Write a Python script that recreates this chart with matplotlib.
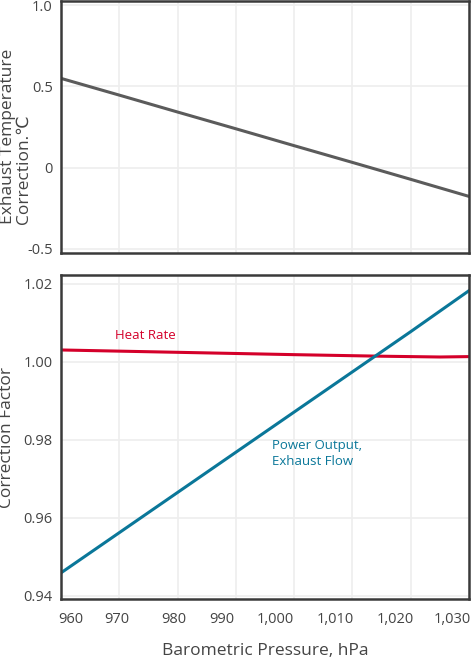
import matplotlib
matplotlib.use("Agg")
import matplotlib.pyplot as plt
from matplotlib.ticker import FuncFormatter

plt.rcParams['font.family'] = ['Open Sans', 'DejaVu Sans']

# data
pressure = [960, 970, 980, 990, 1000, 1010, 1020, 1030]
exhaust_temp = [0.549, 0.446, 0.342, 0.239, 0.135, 0.032, -0.072, -0.177]
power_output = [0.9459, 0.9562, 0.9665, 0.9768, 0.9871, 0.9974, 1.0077, 1.0182]
heat_rate_x = [960, 980, 1000, 1015, 1025, 1030]
heat_rate = [1.0030, 1.0024, 1.0018, 1.0014, 1.0012, 1.0013]

x_ticks = [960, 970, 980, 990, 1000, 1010, 1020, 1030]
x_labels = ['960', '970', '980', '990', '1,000', '1,010', '1,020', '1,030']
# the original's tick labels sit a little off the grid lines
x_label_pos = [961.7, 969.6, 979.4, 987.6, 996.8, 1007.0, 1017.3, 1027.2]
top_ticks = [-0.5, 0, 0.5, 1.0]
top_labels = ['-0.5', '0', '0.5', '1.0']
bot_ticks = [0.94, 0.96, 0.98, 1.00, 1.02]

gray = '#5b5b5b'
red = '#d4002a'
blue = '#0a7799'
spine_c = '#3a3a3a'
grid_c = '#eeeeee'
txt_c = '#444444'

fig = plt.figure(figsize=(4.74, 6.6), dpi=100)
ax1 = fig.add_axes([0.1287, 0.6167, 0.8608, 0.3818])
ax2 = fig.add_axes([0.1287, 0.0924, 0.8608, 0.4909])

for ax in (ax1, ax2):
    ax.set_xlim(960, 1030)
    ax.set_xticks(x_ticks)
    ax.set_xticklabels([])
    ax.grid(True, which='major', color=grid_c, linewidth=1.2)
    ax.set_axisbelow(True)
    for s in ax.spines.values():
        s.set_color(spine_c)
        s.set_linewidth(1.8)
    ax.tick_params(which='both', length=0, labelsize=10.5, labelcolor=txt_c, pad=6)

# top panel
ax1.plot(pressure, exhaust_temp, color=gray, linewidth=2.2)
ax1.set_ylim(-0.525, 1.025)
ax1.set_yticks(top_ticks)
ax1.set_yticklabels(top_labels)
ax1.set_ylabel('Exhaust Temperature\nCorrection.℃', fontsize=12.5,
               color=txt_c, linespacing=0.98, multialignment='left')
ax1.yaxis.set_label_coords(-0.071, 0.462)

# bottom panel
ax2.plot(heat_rate_x, heat_rate, color=red, linewidth=2.2)
ax2.plot(pressure, power_output, color=blue, linewidth=2.2)
ax2.set_ylim(0.9392, 1.0222)
ax2.set_yticks(bot_ticks)
ax2.yaxis.set_major_formatter(FuncFormatter(lambda v, p: f'{v:.2f}'))
ax2.set_xticks(x_label_pos, minor=True)
ax2.set_xticklabels(x_labels, minor=True)
ax2.tick_params(axis='x', which='minor', pad=9)
ax2.set_ylabel('Correction Factor', fontsize=12.5, color=txt_c)
ax2.yaxis.set_label_coords(-0.112, 0.5)
ax2.set_xlabel('Barometric Pressure, hPa', fontsize=12.5, color=txt_c, labelpad=12)

ax2.text(969.3, 1.0067, 'Heat Rate', color=red, fontsize=9.5, va='center')
ax2.text(996.2, 0.9765, 'Power Output,\nExhaust Flow', color=blue, fontsize=9.5,
         va='center', linespacing=1.3)

fig.savefig('out.png', dpi=100)
